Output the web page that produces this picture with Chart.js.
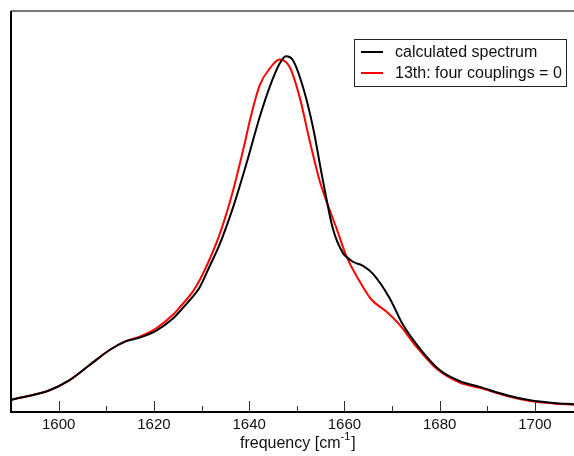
<!DOCTYPE html>
<html lang="en">
<head>
    <meta charset="UTF-8">
    <title>Spectrum</title>
    <script src="https://cdn.jsdelivr.net/npm/chart.js"></script>
    <style>
        html, body { margin: 0; padding: 0; background: #fff; }
        #wrap { width: 574px; height: 456px; }
    </style>
</head>
<body>
<div id="wrap"><canvas id="spectrum" width="574" height="456"></canvas></div>
<script>
    // values (frequency in cm^-1, intensity in arbitrary units)
    const freqCalc = [1590, 1598.1, 1602.3, 1606.5, 1610.7, 1614.2, 1617.0, 1620.5, 1624.0, 1625.4, 1628.2, 1629.6,
        1631.7, 1633.8, 1636.6, 1639.4, 1642.2, 1644.3, 1646.4, 1647.7, 1649.2, 1651.3, 1653.4, 1655.5, 1657.6,
        1659.7, 1660.8, 1661.8, 1663.9, 1666.0, 1669.5, 1672.3, 1675.8, 1680.0, 1684.2, 1688.4, 1694.1, 1699.0,
        1703.9, 1708.2];
    const calcSpectrum = [12, 21.7, 31.7, 46.7, 61.7, 70.5, 74, 81, 93, 100, 115, 124,
        145, 166.7, 203.3, 246.7, 293.3, 323.3, 346.7, 354, 350, 323.3, 283.3, 230, 182,
        158, 153, 149.5, 145.5, 137.5, 113.3, 86.7, 63.3, 41.7, 30.7, 25, 16.7, 11.7,
        9, 7.7];

    const freqZero = [1590, 1598.1, 1602.3, 1606.5, 1610.7, 1614.2, 1617.0, 1620.5, 1624.0, 1625.4, 1628.2, 1629.6,
        1631.7, 1633.8, 1636.6, 1638.7, 1640.5, 1642.2, 1644.3, 1646.4, 1648.5, 1650.6, 1652.7, 1654.8, 1656.2,
        1658.3, 1660.4, 1663.2, 1665.7, 1668.8, 1671.6, 1675.1, 1679.3, 1684.2, 1688.4, 1694.1, 1699.0, 1703.9,
        1708.2];
    const fourCouplingsZero = [12, 21.7, 31.7, 46.7, 61.7, 70.7, 75, 83.3, 96.7, 104, 120, 131,
        152, 176.7, 220, 260, 296.7, 325, 341.7, 350.7, 343.3, 313.3, 270, 230, 210,
        183.3, 155, 130, 111.7, 100, 86.7, 65, 43.3, 29.3, 24, 16, 11, 8.5,
        7.3];

    const seriesNames = ['calculated spectrum', '13th: four couplings = 0'];
    const seriesColors = ['#000000', '#ff0000'];
    const xMin = 1590, xMax = 1708.2;
    const fontFamily = '"Liberation Sans", Arial, sans-serif';

    function toPoints(xs, ys) {
        return xs.map((x, i) => ({ x: x, y: ys[i] }));
    }

    // frame, inward ticks, legend box and axis title
    const framePlugin = {
        id: 'frame',
        afterDraw(chart) {
            const ctx = chart.ctx;
            const area = chart.chartArea;
            const xs = chart.scales.x;
            ctx.save();

            // top border (grey) and left / bottom axis lines (black)
            ctx.strokeStyle = '#777';
            ctx.lineWidth = 2;
            ctx.beginPath();
            ctx.moveTo(area.left, area.top);
            ctx.lineTo(area.right, area.top);
            ctx.stroke();
            ctx.strokeStyle = '#000';
            ctx.beginPath();
            ctx.moveTo(area.left, area.top);
            ctx.lineTo(area.left, area.bottom);
            ctx.lineTo(area.right, area.bottom);
            ctx.stroke();

            // ticks pointing into the plot
            ctx.strokeStyle = '#333';
            ctx.lineWidth = 1;
            xs.ticks.forEach(t => {
                const v = Math.round(t.value);
                if (v % 10 !== 0 || v <= xMin) return;
                const px = Math.round(xs.getPixelForValue(v)) + 0.5;
                const len = v % 20 === 0 ? 11 : 6;
                ctx.beginPath();
                ctx.moveTo(px, area.bottom);
                ctx.lineTo(px, area.bottom - len);
                ctx.stroke();
            });

            // legend
            ctx.strokeStyle = '#222';
            ctx.lineWidth = 1;
            ctx.strokeRect(354.5, 39.5, 212, 47);
            ctx.font = '16px ' + fontFamily;
            ctx.textBaseline = 'middle';
            ctx.fillStyle = '#111';
            chart.data.datasets.forEach((ds, i) => {
                const y = 52 + i * 21;
                ctx.strokeStyle = ds.borderColor;
                ctx.lineWidth = 2;
                ctx.beginPath();
                ctx.moveTo(361, y);
                ctx.lineTo(383, y);
                ctx.stroke();
                ctx.fillText(ds.label, 395, y + 1);
            });

            // axis title with superscript
            const main1 = 'frequency [cm';
            const sup = '-1';
            const main2 = ']';
            ctx.font = '16px ' + fontFamily;
            const w1 = ctx.measureText(main1).width;
            ctx.font = '11px ' + fontFamily;
            const w2 = ctx.measureText(sup).width;
            const x0 = 240;
            const base = 448;
            ctx.textBaseline = 'alphabetic';
            ctx.font = '16px ' + fontFamily;
            ctx.fillText(main1, x0, base);
            ctx.font = '11px ' + fontFamily;
            ctx.fillText(sup, x0 + w1, base - 8);
            ctx.font = '16px ' + fontFamily;
            ctx.fillText(main2, x0 + w1 + w2 + 1, base);
            ctx.restore();
        }
    };

    const ctx = document.getElementById('spectrum').getContext('2d');
    const spectrumChart = new Chart(ctx, {
        type: 'line',
        data: {
            datasets: [{
                label: seriesNames[0],
                data: toPoints(freqCalc, calcSpectrum),
                borderColor: seriesColors[0],
                borderWidth: 2,
                pointRadius: 0,
                cubicInterpolationMode: 'monotone',
                fill: false
            }, {
                label: seriesNames[1],
                data: toPoints(freqZero, fourCouplingsZero),
                borderColor: seriesColors[1],
                borderWidth: 2,
                pointRadius: 0,
                cubicInterpolationMode: 'monotone',
                fill: false
            }]
        },
        options: {
            responsive: false,
            animation: false,
            layout: { padding: { left: 11, right: 0, top: 11, bottom: 18 } },
            plugins: {
                legend: { display: false },
                tooltip: { enabled: false }
            },
            scales: {
                x: {
                    type: 'linear',
                    min: xMin,
                    max: xMax,
                    grid: { display: false, drawTicks: false },
                    border: { display: false },
                    afterFit: scale => { scale.paddingLeft = 0; scale.paddingRight = 0; },
                    ticks: {
                        stepSize: 10,
                        includeBounds: false,
                        maxTicksLimit: 30,
                        autoSkip: false,
                        maxRotation: 0,
                        padding: 4,
                        color: '#111',
                        font: { family: fontFamily, size: 15 },
                        callback: v => (Math.round(v) % 20 === 0 && v >= 1600 && v <= 1700) ? String(Math.round(v)) : ''
                    }
                },
                y: {
                    display: false,
                    min: 0,
                    max: 399
                }
            }
        },
        plugins: [framePlugin]
    });
</script>
</body>
</html>
